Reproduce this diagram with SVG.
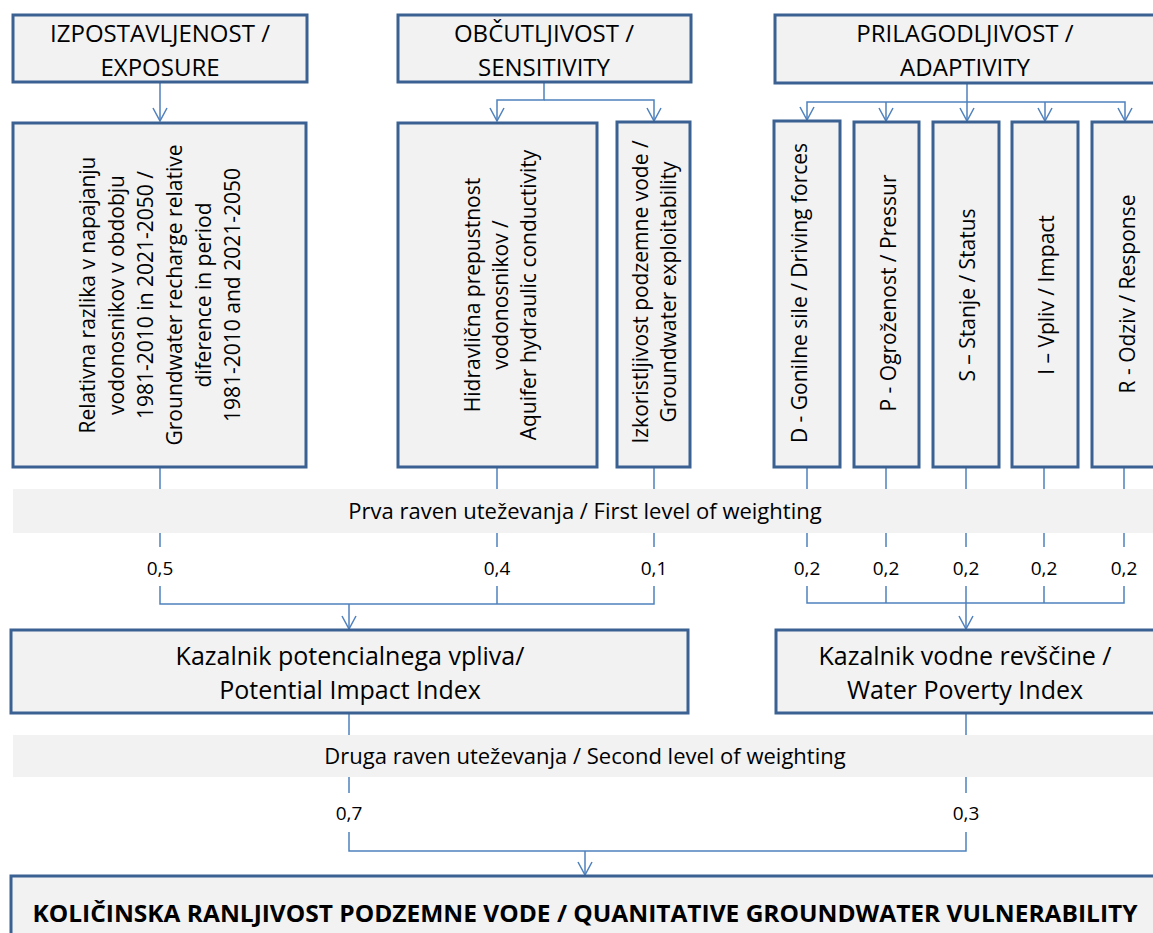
<svg xmlns="http://www.w3.org/2000/svg" width="1153" height="933" viewBox="0 0 1153 933">
<style>
.box{fill:#f2f2f2;stroke:#3b6193;stroke-width:3}
.band{fill:#f2f2f2;stroke:none}
.t{font-family:"Open Sans","Liberation Sans",sans-serif;fill:#000}
.h{font-size:24px;text-anchor:middle}
.k{font-size:25px;text-anchor:middle}
.r{font-size:21px;text-anchor:middle;dominant-baseline:central}
.w{font-size:19px;text-anchor:middle}
.c{fill:none;stroke:#4f81bd;stroke-width:1.5}
</style>
<defs>
<marker id="ah" markerUnits="userSpaceOnUse" markerWidth="16" markerHeight="16" viewBox="0 0 16 16" refX="15" refY="8" orient="auto">
<path d="M2,1 L15,8 L2,15" fill="none" stroke="#4f81bd" stroke-width="1.5"/>
</marker>
</defs>
<g id="connectors">
<path class="c" d="M160,82 V121" marker-end="url(#ah)"/>
<path class="c" d="M544,82 V100 H497 V121" marker-end="url(#ah)"/>
<path class="c" d="M544,100 H654 V121" marker-end="url(#ah)"/>
<path class="c" d="M967,83 V121" marker-end="url(#ah)"/>
<path class="c" d="M967,102 H807 V120" marker-end="url(#ah)"/>
<path class="c" d="M886,102 V121" marker-end="url(#ah)"/>
<path class="c" d="M967,102 H1125 V121" marker-end="url(#ah)"/>
<path class="c" d="M1045,102 V121" marker-end="url(#ah)"/>
<path class="c" d="M160,467 V547 M497,467 V547 M654,467 V547"/>
<path class="c" d="M807,467 V547 M886,467 V547 M966,467 V547 M1044,467 V547 M1124,467 V547"/>
<path class="c" d="M160,586 V604 H654 V586 M497,586 V604"/>
<path class="c" d="M349,604 V629" marker-end="url(#ah)"/>
<path class="c" d="M807,586 V603 H1124 V586 M886,586 V603 M1044,586 V603 M966,586 V603"/>
<path class="c" d="M966,603 V629" marker-end="url(#ah)"/>
<path class="c" d="M349,713 V793 M966,713 V793"/>
<path class="c" d="M349,832 V851 H966 V832"/>
<path class="c" d="M585,851 V875" marker-end="url(#ah)"/>
</g>
<g id="band1">
<rect class="band" x="13" y="489" width="1145" height="44"/>
<text class="t" x="585" y="519" font-size="22" text-anchor="middle">Prva raven uteževanja / First level of weighting</text>
</g>
<g id="band2">
<rect class="band" x="13" y="735" width="1145" height="42"/>
<text class="t" x="585" y="764" font-size="22" text-anchor="middle">Druga raven uteževanja / Second level of weighting</text>
</g>
<g id="weights">
<text class="t w" x="160" y="575">0,5</text>
<text class="t w" x="497" y="575">0,4</text>
<text class="t w" x="654" y="575">0,1</text>
<text class="t w" x="807" y="575">0,2</text>
<text class="t w" x="886" y="575">0,2</text>
<text class="t w" x="966" y="575">0,2</text>
<text class="t w" x="1044" y="575">0,2</text>
<text class="t w" x="1124" y="575">0,2</text>
<text class="t w" x="349" y="820">0,7</text>
<text class="t w" x="966" y="820">0,3</text>
</g>
<g id="exposure">
<rect class="box" x="13" y="15" width="294" height="67"/>
<text class="t h" x="160" y="42">IZPOSTAVLJENOST /</text>
<text class="t h" x="160" y="76">EXPOSURE</text>
</g>
<g id="sensitivity">
<rect class="box" x="398" y="15" width="293" height="67"/>
<text class="t h" x="544" y="42">OBČUTLJIVOST /</text>
<text class="t h" x="544" y="76">SENSITIVITY</text>
</g>
<g id="adaptivity">
<rect class="box" x="775" y="15" width="385" height="68"/>
<text class="t h" x="965" y="42">PRILAGODLJIVOST /</text>
<text class="t h" x="965" y="76">ADAPTIVITY</text>
</g>
<g id="recharge">
<rect class="box" x="13" y="123" width="293" height="344"/>
<g transform="translate(160,295) rotate(-90)">
<text class="t r" x="0" y="-73">Relativna razlika v napajanju</text>
<text class="t r" x="0" y="-44">vodonosnikov v obdobju</text>
<text class="t r" x="0" y="-15">1981-2010 in 2021-2050 /</text>
<text class="t r" x="0" y="14">Groundwater recharge relative</text>
<text class="t r" x="0" y="43">diference in period</text>
<text class="t r" x="0" y="72">1981-2010 and 2021-2050</text>
</g>
</g>
<g id="conductivity">
<rect class="box" x="398" y="123" width="199" height="344"/>
<g transform="translate(500,295) rotate(-90)">
<text class="t r" x="0" y="-28">Hidravlična prepustnost</text>
<text class="t r" x="0" y="0">vodonosnikov /</text>
<text class="t r" x="0" y="28">Aquifer hydraulic conductivity</text>
</g>
</g>
<g id="exploitability">
<rect class="box" x="617" y="122" width="73" height="345"/>
<g transform="translate(654,292) rotate(-90)">
<text class="t r" x="0" y="-14">Izkoristljivost podzemne vode /</text>
<text class="t r" x="0" y="14">Groundwater exploitability</text>
</g>
</g>
<g id="driving">
<rect class="box" x="774" y="121" width="66" height="346"/>
<text class="t r" transform="translate(799,293) rotate(-90)">D - Gonilne sile / Driving forces</text>
</g>
<g id="pressure">
<rect class="box" x="854" y="122" width="65" height="345"/>
<text class="t r" transform="translate(888,293) rotate(-90)">P - Ogroženost / Pressur</text>
</g>
<g id="status">
<rect class="box" x="933" y="122" width="66" height="345"/>
<text class="t r" transform="translate(967,295) rotate(-90)">S – Stanje / Status</text>
</g>
<g id="impact">
<rect class="box" x="1012" y="122" width="66" height="345"/>
<text class="t r" transform="translate(1046,295) rotate(-90)">I – Vpliv / Impact</text>
</g>
<g id="response">
<rect class="box" x="1092" y="122" width="68" height="345"/>
<text class="t r" transform="translate(1127,294) rotate(-90)">R - Odziv / Response</text>
</g>
<g id="pii">
<rect class="box" x="11" y="630" width="677" height="83"/>
<text class="t k" x="350" y="665">Kazalnik potencialnega vpliva/</text>
<text class="t k" x="350" y="699">Potential Impact Index</text>
</g>
<g id="wpi">
<rect class="box" x="776" y="630" width="384" height="83"/>
<text class="t k" x="965" y="665">Kazalnik vodne revščine /</text>
<text class="t k" x="965" y="699">Water Poverty Index</text>
</g>
<g id="vulnerability">
<rect class="box" x="11" y="876" width="1150" height="70"/>
<text class="t" x="585" y="922" font-size="24" font-weight="bold" text-anchor="middle" textLength="1105" lengthAdjust="spacingAndGlyphs">KOLIČINSKA RANLJIVOST PODZEMNE VODE / QUANITATIVE GROUNDWATER VULNERABILITY</text>
</g>
</svg>
